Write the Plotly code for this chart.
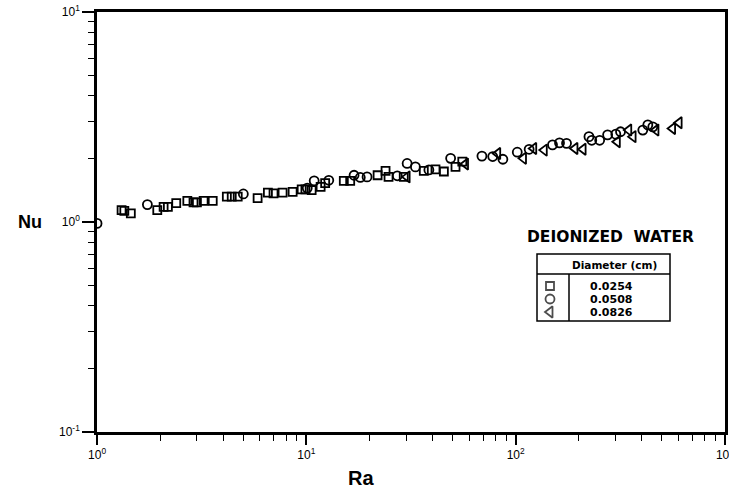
import plotly.graph_objects as go

# ---- data ----
sq_ra = [1.31, 1.35, 1.45, 1.94, 2.08, 2.18, 2.39, 2.70, 2.89, 3.0, 3.23, 3.57, 4.17, 4.4, 4.7,
         5.85, 6.55, 6.97, 7.7, 8.6, 9.5, 9.9, 10.6, 11.7, 12.3, 15.1, 16.2, 21.9, 23.9, 24.7,
         29.2, 36.4, 41.4, 45.4, 51.6, 55.6]
sq_nu = [1.14, 1.13, 1.10, 1.14, 1.18, 1.18, 1.23, 1.26, 1.24, 1.24, 1.26, 1.26, 1.32, 1.32, 1.32,
         1.30, 1.38, 1.37, 1.38, 1.39, 1.43, 1.43, 1.42, 1.47, 1.53, 1.57, 1.57, 1.67, 1.75, 1.64,
         1.64, 1.75, 1.78, 1.74, 1.83, 1.94]

ci_ra = [1.0, 1.74, 5.0, 10.1, 10.9, 12.8, 16.9, 18.1, 19.5, 27.2, 30.3, 33.2, 38.5, 48.9, 69.0,
         77.7, 86.9, 101.8, 116, 150, 162, 175, 224, 231, 252, 275, 301, 317, 405, 428, 452]
ci_nu = [0.985, 1.21, 1.36, 1.45, 1.57, 1.58, 1.67, 1.63, 1.64, 1.66, 1.90, 1.83, 1.77, 2.01, 2.06,
         2.05, 1.99, 2.15, 2.22, 2.33, 2.38, 2.37, 2.55, 2.45, 2.45, 2.60, 2.62, 2.69, 2.74, 2.90, 2.84]

tr_ra = [30.3, 57.6, 82.1, 109, 122, 137, 192, 210, 306, 347, 364, 468, 562, 604]
tr_nu = [1.64, 1.89, 2.12, 2.01, 2.24, 2.20, 2.24, 2.22, 2.41, 2.74, 2.55, 2.74, 2.79, 2.97]

diameters = ["0.0254", "0.0508", "0.0826"]
symbols = ["square-open", "circle-open", "triangle-left-open"]
sizes = [8, 9, 10]

x_tickvals = [1, 10, 100, 1000]
x_ticktext = ["10<sup>0</sup>", "10<sup>1</sup>", "10<sup>2</sup>", "10<sup>3</sup>"]
y_tickvals = [0.1, 1, 10]
y_ticktext = ["10<sup>-1</sup>", "10<sup>0</sup>", "10<sup>1</sup>"]
minor_x = [m * d for d in [1, 10, 100] for m in range(2, 10)]
minor_y = [m * d for d in [0.1, 1] for m in range(2, 10)]

fig = go.Figure()
series = [(sq_ra, sq_nu), (ci_ra, ci_nu), (tr_ra, tr_nu)]
for (xs, ys), sym, sz in zip(series, symbols, sizes):
    fig.add_trace(go.Scatter(x=xs, y=ys, mode="markers", showlegend=False,
                             marker=dict(symbol=sym, size=sz, color="black",
                                         line=dict(width=1.8, color="black"))))

# ---- table-style legend on a pixel overlay ----
rows_y = [286, 299, 312]
fig.add_trace(go.Scatter(x=[550] * 3, y=rows_y, xaxis="x2", yaxis="y2", mode="markers",
                         showlegend=False, hoverinfo="skip",
                         marker=dict(symbol=symbols, size=sizes, color="black",
                                     line=dict(width=1.8, color="black"))))

shapes = [
    dict(type="rect", x0=537, x1=670, y0=254, y1=321),
    dict(type="line", x0=537, x1=670, y0=274, y1=274),
    dict(type="line", x0=569, x1=569, y0=274, y1=321),
]
for s in shapes:
    s.update(xref="x2", yref="y2", line=dict(color="black", width=1.5))
fig.update_layout(shapes=shapes)

annots = [
    dict(x=610, y=237, text="<b>DEIONIZED  WATER</b>",
         font=dict(family="DejaVu Sans", size=15.5, color="black")),
    dict(x=614, y=265, text="<b>Diameter (cm)</b>",
         font=dict(family="DejaVu Sans", size=10.5, color="black")),
]
for d, yy in zip(diameters, rows_y):
    annots.append(dict(x=611, y=yy, text="<b>" + d + "</b>",
                       font=dict(family="DejaVu Sans", size=11, color="black")))
for a in annots:
    a.update(xref="x2", yref="y2", showarrow=False, xanchor="center", yanchor="middle")

annots.append(dict(xref="paper", yref="paper", x=-0.107, y=0.5, text="<b>Nu</b>",
                   showarrow=False, xanchor="center", yanchor="middle",
                   font=dict(family="Liberation Sans", size=18, color="black")))
annots.append(dict(xref="paper", yref="paper", x=0.42, y=-0.11, text="<b>Ra</b>",
                   showarrow=False, xanchor="center", yanchor="middle",
                   font=dict(family="Liberation Sans", size=20, color="black")))
fig.update_layout(annotations=annots)

axis_common = dict(showgrid=False, zeroline=False, showline=True, linecolor="black",
                   linewidth=2.6, mirror=True, ticks="outside", tickcolor="black",
                   tickwidth=1.6, ticklabeloverflow="allow", automargin=False,
                   tickfont=dict(family="Liberation Sans", size=12, color="black"))

fig.update_layout(
    width=729, height=492,
    margin=dict(l=97, r=4, t=12, b=60, autoexpand=False),
    paper_bgcolor="white", plot_bgcolor="white",
    xaxis=dict(type="log", range=[-0.0002, 3.0002], tickvals=x_tickvals, ticktext=x_ticktext,
               ticklen=10, minor=dict(tickvals=minor_x, ticks="outside", ticklen=6,
                                      tickwidth=1.3, tickcolor="black"), **axis_common),
    yaxis=dict(type="log", range=[-1.0002, 1.0002], tickvals=y_tickvals, ticktext=y_ticktext,
               ticklen=12, minor=dict(tickvals=minor_y, ticks="outside", ticklen=6,
                                      tickwidth=1.3, tickcolor="black"), **axis_common),
    xaxis2=dict(overlaying="x", range=[97, 725], visible=False, anchor="y2"),
    yaxis2=dict(overlaying="y", range=[432, 12], visible=False, anchor="x2"),
)

fig.write_html("out.html", config={"displayModeBar": False},
               post_script="document.body.style.margin='0px';document.body.style.overflow='hidden';")
